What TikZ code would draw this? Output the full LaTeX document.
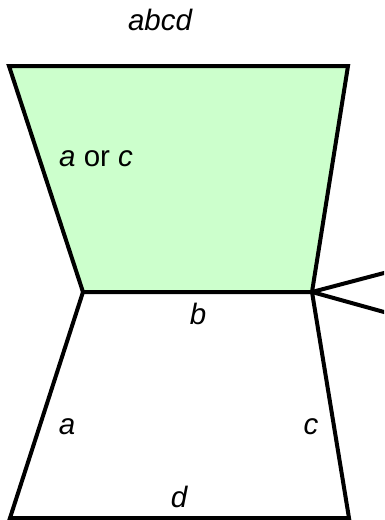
\documentclass[tikz,border=0pt]{standalone}
\usepackage{fontspec}
\setmainfont{Liberation Sans}
\definecolor{lightgreen}{RGB}{204,255,204}
\begin{document}
\begin{tikzpicture}[x=1pt,y=-1pt,
  edge/.style={line width=4pt,draw=black},
  lbl/.style={inner sep=0pt,font=\fontsize{29.5}{35}\selectfont}]
\useasboundingbox (0,0) rectangle (384,520);
\begin{scope}
\clip (0,0) rectangle (384,520);
\coordinate (tl) at (9,66);
\coordinate (tr) at (348,66);
\coordinate (ml) at (83,292);
\coordinate (mr) at (312,292);
\coordinate (bl) at (10,518);
\coordinate (br) at (349,518);
\coordinate (au) at (420,263.5);
\coordinate (ad) at (420,322);
\fill[lightgreen] (tl) -- (tr) -- (mr) -- (ml) -- cycle;
\draw[edge] (tl) -- (tr) -- (mr) -- (ml) -- cycle;
\draw[edge] (ml) -- (bl) -- (br) -- (mr);
\draw[edge] (au) -- (mr) -- (ad);
\end{scope}
\node[lbl,anchor=base] (t) at (160,30) {\itshape abcd};
\node[lbl,anchor=base west] (ac) at (59,166.5) {\itshape a\upshape{} or \itshape c};
\node[lbl,anchor=base] (b) at (198,324) {\itshape b};
\node[lbl,anchor=base] (a) at (67,434) {\itshape a};
\node[lbl,anchor=base] (c) at (311,434) {\itshape c};
\node[lbl,anchor=base] (d) at (179,507) {\itshape d};
\end{tikzpicture}
\end{document}
